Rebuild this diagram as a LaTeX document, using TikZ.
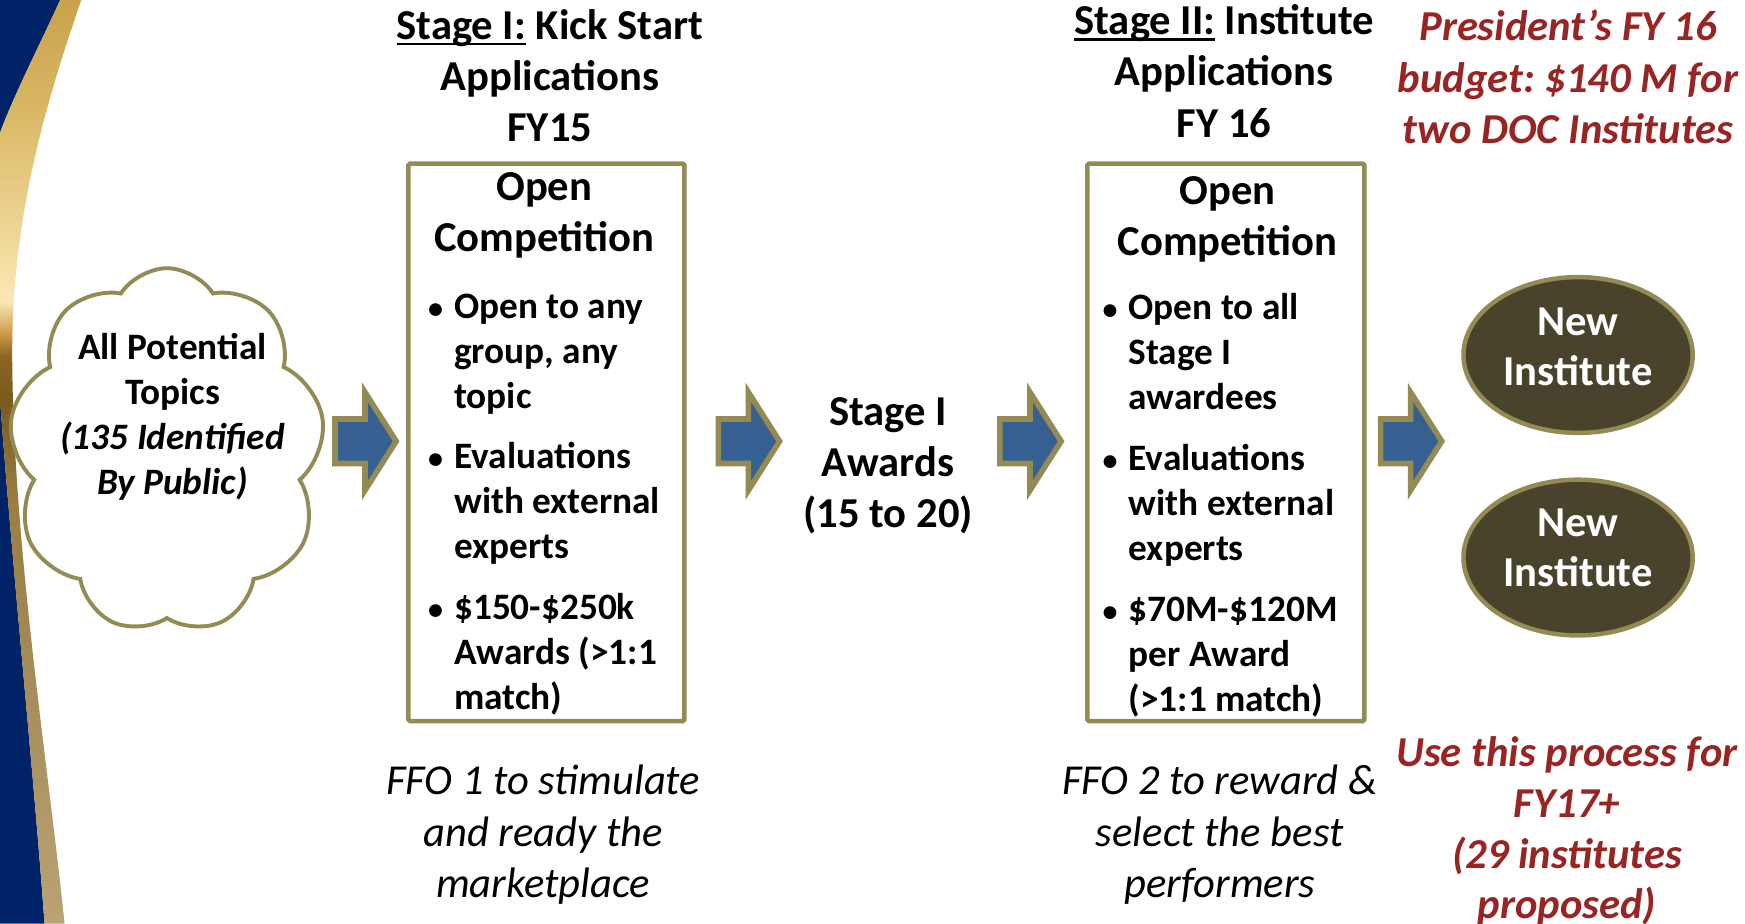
\documentclass[tikz,border=0pt]{standalone}
\usepackage{fontspec}
\setmainfont{Carlito}
\usetikzlibrary{shapes.geometric,shapes.symbols}
\definecolor{navyc}{HTML}{002267}
\definecolor{goldline}{HTML}{948A54}
\definecolor{arrowblue}{HTML}{376092}
\definecolor{ovalfill}{HTML}{4A432C}
\definecolor{redtext}{HTML}{982424}
\definecolor{gA}{HTML}{C9A24B}
\definecolor{gB}{HTML}{D9B765}
\definecolor{gC}{HTML}{F2DA9C}
\definecolor{gD}{HTML}{FBE8B8}
\definecolor{gE}{HTML}{C99A45}
\definecolor{gF}{HTML}{8C6422}
\definecolor{gG}{HTML}{7A5A20}
\definecolor{gH}{HTML}{9A7E40}
\definecolor{gI}{HTML}{A48B58}
\definecolor{gJ}{HTML}{BBA274}
\pgfdeclareverticalshading{goldband}{100bp}{color(0bp)=(gJ); color(25bp)=(gJ); color(38.9bp)=(gI); color(47.9bp)=(gH); color(53.3bp)=(gG); color(55.7bp)=(gF); color(56.9bp)=(gE); color(58.7bp)=(gD); color(61.7bp)=(gC); color(69bp)=(gB); color(75bp)=(gA); color(100bp)=(gA)}
\newsavebox{\myulbox}
\newcommand{\myul}[1]{\sbox{\myulbox}{#1}\rlap{\vrule width \wd\myulbox height -0.09em depth 0.15em}\usebox{\myulbox}}
\newcommand{\bulletmark}{\llap{{\fontsize{27}{27}\selectfont •}\hspace{10pt}}}
\frenchspacing
\tikzset{
  big/.style={inner sep=0, align=center, anchor=north, font=\bfseries\fontsize{38.3}{46}\selectfont},
  bul/.style={inner sep=0, align=left, anchor=north west, font=\bfseries\fontsize{33.5}{40.5}\selectfont},
  ffo/.style={inner sep=0, align=center, anchor=north, font=\itshape\fontsize{38.3}{46.5}\selectfont},
  redt/.style={inner sep=0, align=center, anchor=north, text=redtext, font=\bfseries\itshape\fontsize{38.3}{46}\selectfont},
  stagebox/.style={draw=goldline, line width=4, rounded corners=1.5},
  blockarr/.style={draw=goldline, fill=arrowblue, line width=5, miter limit=10},
  oval/.style={ellipse, draw=goldline, line width=4, fill=ovalfill, minimum width=206, minimum height=140, inner sep=0},
}
\newcommand{\blockarrow}[1]{\draw[blockarr] (#1) ++(0,-20) -- ++(27,0) -- ++(0,-24) -- ++(28,44) -- ++(-28,44) -- ++(0,-24) -- ++(-27,0) -- cycle;}
\begin{document}
\begin{tikzpicture}[x=1pt,y=-1pt]
\useasboundingbox (0,0) rectangle (1568,830);
\fill[white] (0,0) rectangle (1568,830);
% left decoration
\begin{scope}
\clip (0,0) rectangle (1568,830);
\fill[navyc] (0,0) -- (54,0) .. controls (36,40) and (10,90) .. (-2,125) -- (-2,330) .. controls (8,480) and (30,690) .. (40,830) -- (0,830) -- cycle;
\shade[shading=goldband] (54,0) -- (73,0) .. controls (42,90) and (12,190) .. (11,310) .. controls (10,480) and (45,700) .. (58,830) -- (40,830) .. controls (30,690) and (8,480) .. (-2,330) -- (-2,125) .. controls (10,90) and (36,40) .. (54,0) -- cycle;
\end{scope}

% cloud
\node[cloud, cloud puffs=9, cloud puff arc=115, aspect=0.86, cloud ignores aspect, draw=goldline, line width=3.5, fill=white, minimum width=284, minimum height=328, inner sep=0] (cloud) at (150,405) {};
\node[inner sep=0, align=center, anchor=north, font=\bfseries\fontsize{33.5}{40.5}\selectfont] (cloudt) at (155,299) {All Potential\\Topics\\\textit{(135 Identified}\\\textit{By Public)}};

% headings
\node[big] (h1) at (494,8) {\myul{Stage I:} Kick Start\\Applications\\FY15};
\node[big] (h2) at (1100,4) {\myul{Stage II:} Institute\\Applications\\FY 16};
\node[redt] (redtop) at (1409,9) {President’s FY 16\\budget: \$140 M for\\two DOC Institutes};

% stage boxes
\draw[stagebox] (367,147) rectangle (615,648);
\coordinate (box1) at (491,397);
\draw[stagebox] (977,147) rectangle (1226,648);
\coordinate (box2) at (1101,397);
\node[big] (b1title) at (489,155) {Open\\Competition};
\node[big] (b2title) at (1103,158) {Open\\Competition};
\node[bul] (b1list) at (408,264) {\bulletmark Open to any\\group, any\\topic\\[13.5pt]\bulletmark Evaluations\\with external\\experts\\[14pt]\bulletmark\$150-\$250k\\Awards (>1:1\\match)};
\node[bul] (b2list) at (1014,263) {\bulletmark Open to all\\Stage I\\awardees\\[14.5pt]\bulletmark Evaluations\\with external\\experts\\[14pt]\bulletmark\$70M-\$120M\\per Award\\(>1:1 match)};

% middle
\node[big] (mid) at (798,357) {Stage I\\Awards\\(15 to 20)};

% arrows
\coordinate (a1) at (301,396.5);
\coordinate (a2) at (645.5,396.5);
\coordinate (a3) at (898.5,396.5);
\coordinate (a4) at (1240.5,396.5);
\blockarrow{a1}
\blockarrow{a2}
\blockarrow{a3}
\blockarrow{a4}

% institutes
\node[oval] (e1) at (1418,319) {};
\node[oval] (e2) at (1418,501) {};
\node[big, text=white, font=\bfseries\fontsize{38.3}{45}\selectfont] (e1t) at (1418,276) {New\\Institute};
\node[big, text=white, font=\bfseries\fontsize{38.3}{45}\selectfont] (e2t) at (1418,457) {New\\Institute};

% bottom texts
\node[ffo] (ffo1) at (488,687) {FFO 1 to stimulate\\and ready the\\marketplace};
\node[ffo] (ffo2) at (1096,687) {FFO 2 to reward \&\\select the best\\performers};
\node[redt, font=\bfseries\itshape\fontsize{38.3}{45.5}\selectfont] (redbot) at (1408,662) {Use this process for\\FY17+\\(29 institutes\\proposed)};
\end{tikzpicture}
\end{document}
